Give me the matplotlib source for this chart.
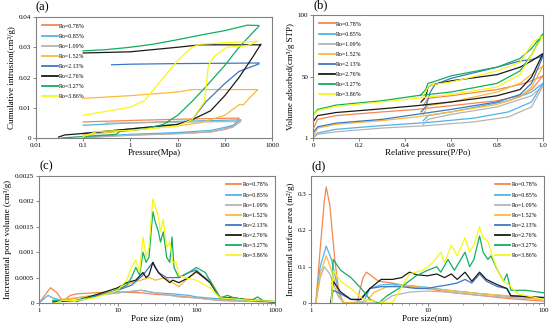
import numpy as np
import matplotlib
matplotlib.use("Agg")
import matplotlib.pyplot as plt

plt.rcParams['font.family'] = ['Liberation Serif', 'DejaVu Serif']

labels = ["Ro=0.78%", "Ro=0.85%", "Ro=1.09%", "Ro=1.52%",
          "Ro=2.13%", "Ro=2.76%", "Ro=3.27%", "Ro=3.86%"]
colors = ["#f4864f", "#4fb3ea", "#b4b4b4", "#fbba3a",
          "#3a78c6", "#1a1a1a", "#13ad62", "#f7f71a"]

# (a) mercury intrusion: intrusion branch then extrusion branch (pressure MPa, cm3/g)
a_x = [
    [0.1, 1, 10, 50, 100, 150, 200, 200, 10, 1, 0.1],
    [0.1, 1, 10, 50, 100, 150, 220, 220, 10, 1, 0.1],
    [0.15, 1, 10, 50, 100, 150, 220, 220, 10, 1, 0.3],
    [0.1, 1, 10, 30, 100, 200, 250, 300, 500, 500, 100, 20, 10, 1, 0.1],
    [0.1, 1, 10, 20, 40, 100, 200, 530, 530, 100, 10, 1, 0.4],
    [0.03, 0.04, 0.1, 1, 10, 20, 50, 100, 200, 400, 580, 580, 100, 30, 10, 1, 0.1],
    [0.035, 0.1, 0.5, 0.6, 2, 5, 10, 20, 40, 100, 200, 530, 530, 300, 100, 30, 10, 3, 1, 0.3, 0.1],
    [0.1, 0.2, 1, 10, 20, 37, 45, 60, 110, 300, 500, 500, 100, 30, 20, 10, 5, 2, 1, 0.1],
]
a_y = [
    [0.0002, 0.001, 0.0015, 0.002, 0.003, 0.004, 0.0065, 0.0066, 0.0062, 0.0058, 0.0053],
    [0.0003, 0.0012, 0.0018, 0.0025, 0.0035, 0.0042, 0.0060, 0.0060, 0.0055, 0.0050, 0.0042],
    [0.0002, 0.0009, 0.0014, 0.002, 0.0028, 0.0036, 0.0055, 0.0055, 0.0052, 0.0050, 0.0049],
    [0.001, 0.0025, 0.004, 0.005, 0.0075, 0.011, 0.011, 0.0125, 0.016, 0.016, 0.016, 0.016, 0.0152, 0.014, 0.0131],
    [0.0015, 0.003, 0.0045, 0.006, 0.012, 0.018, 0.022, 0.0245, 0.0248, 0.0247, 0.0246, 0.0244, 0.0242],
    [0.0003, 0.001, 0.0015, 0.003, 0.0045, 0.006, 0.009, 0.014, 0.020, 0.027, 0.031, 0.0308, 0.0308, 0.0308, 0.0300, 0.0285, 0.0281],
    [0.0, 0.0005, 0.0012, 0.0022, 0.003, 0.0045, 0.0075, 0.012, 0.017, 0.024, 0.030, 0.037, 0.0372, 0.0373, 0.0355, 0.034, 0.0325, 0.031, 0.030, 0.0292, 0.0288],
    [0.0005, 0.0022, 0.0025, 0.004, 0.006, 0.012, 0.024, 0.027, 0.030, 0.0305, 0.032, 0.032, 0.0315, 0.031, 0.030, 0.0256, 0.020, 0.0124, 0.0102, 0.0075],
]

# (b) N2 isotherms: adsorption then desorption (P/Po, cm3/g STP)
b_x = [
    [0, 0.02, 0.1, 0.3, 0.45, 0.6, 0.8, 0.9, 0.95, 1.0, 0.95, 0.9, 0.8, 0.6, 0.5, 0.48],
    [0, 0.02, 0.1, 0.3, 0.5, 0.7, 0.85, 0.95, 1.0, 0.95, 0.85, 0.6, 0.5, 0.48],
    [0, 0.02, 0.1, 0.3, 0.5, 0.7, 0.85, 0.95, 1.0, 0.95, 0.8, 0.6, 0.5, 0.48],
    [0, 0.02, 0.1, 0.3, 0.45, 0.6, 0.8, 0.9, 0.95, 1.0, 0.97, 0.9, 0.8, 0.6, 0.5, 0.48],
    [0, 0.02, 0.1, 0.3, 0.45, 0.6, 0.8, 0.9, 0.95, 1.0, 0.95, 0.9, 0.8, 0.6, 0.53, 0.51, 0.49, 0.47],
    [0, 0.02, 0.1, 0.3, 0.45, 0.6, 0.8, 0.9, 0.95, 1.0, 0.95, 0.9, 0.8, 0.6, 0.52, 0.5, 0.49, 0.47],
    [0, 0.02, 0.1, 0.3, 0.45, 0.6, 0.8, 0.9, 0.95, 1.0, 0.95, 0.9, 0.8, 0.6, 0.52, 0.5, 0.49, 0.47],
    [0, 0.02, 0.1, 0.3, 0.45, 0.6, 0.8, 0.9, 0.95, 0.99, 1.0, 0.96, 0.9, 0.8, 0.6, 0.52, 0.5, 0.49, 0.47],
]
b_y = [
    [8, 16, 19, 22, 24, 27, 31, 35, 40, 51, 47, 44, 40, 35, 33, 27],
    [1, 5, 8, 11, 13.5, 17, 22, 30, 45, 38, 31, 22, 19, 15],
    [1, 4, 6, 9, 11, 14, 18, 26, 43, 35, 26, 20, 16, 12],
    [2, 9, 12, 15, 18, 22, 28, 34, 42, 59, 55, 45, 38, 30, 27, 20],
    [5, 10, 13, 16, 20, 24, 30, 36, 45, 67, 64, 63, 58, 49, 44, 38, 26, 22],
    [14, 19, 21.5, 24.5, 27, 30, 35, 40, 50, 69, 63, 58, 52, 47, 44, 42, 34, 30],
    [19, 24, 27.5, 31, 35, 38, 45, 55, 68, 85, 73, 65, 58, 51, 46, 45, 40, 36],
    [19, 23, 26.5, 30, 33, 36, 42, 52, 68, 80, 83, 79, 62, 55, 46, 44, 42, 38, 34],
]

# (c) incremental pore volume vs pore size (nm, cm3/g)
c_x = [
    [1, 1.4, 1.7, 2, 2.5, 3, 5, 10, 20, 30, 50, 100, 200, 1000],
    [1, 1.3, 1.5, 2, 3, 5, 10, 20, 30, 50, 80, 100, 200, 1000],
    [1.5, 3, 10, 20, 30, 60, 100, 200, 1000],
    [1.5, 3, 5, 10, 15, 20, 25, 30, 40, 50, 60, 80, 100, 150, 200, 300, 1000],
    [3, 10, 15, 21, 28, 33, 42, 60, 80, 100, 150, 200, 1000],
    [1.5, 3, 5, 8, 10, 13, 17, 21, 23, 25, 28, 30, 33, 38, 42, 46, 50, 60, 80, 100, 150, 200, 300, 500, 1000],
    [1.5, 3, 8, 13, 15, 17, 19, 21, 23, 25, 28, 30, 33, 35, 38, 42, 46, 49, 52, 60, 80, 100, 130, 200, 250, 300, 500, 600, 700, 1000],
    [1.6, 2, 3, 5, 8, 10, 13, 15, 17, 19, 21, 23, 25, 28, 30, 33, 35, 38, 42, 46, 50, 55, 60, 70, 100, 150, 200, 300, 500, 1000],
]
c_y = [
    [0, 0.0003, 0.0002, 0.00003, 0.00015, 0.00018, 0.0002, 0.00022, 0.0002, 0.00017, 0.00015, 0.0001, 0.00005, 0.00002],
    [0, 0.00015, 0.0001, 0.00005, 0.0001, 0.00015, 0.0002, 0.00025, 0.0002, 0.00018, 0.00015, 0.00012, 0.00008, 0.00003],
    [0.00005, 0.0001, 0.0002, 0.00025, 0.0002, 0.00012, 0.0001, 0.00005, 0.00002],
    [0.00005, 0.0001, 0.00015, 0.00025, 0.0004, 0.00045, 0.0005, 0.00045, 0.0005, 0.0004, 0.00032, 0.0005, 0.0006, 0.00045, 0.00012, 0.0001, 0.00003],
    [0.00003, 0.00025, 0.00035, 0.00055, 0.0008, 0.0006, 0.0005, 0.0005, 0.0006, 0.00065, 0.0004, 0.0001, 0.00002],
    [0.00002, 0.00005, 0.00015, 0.00025, 0.0003, 0.0004, 0.00045, 0.0006, 0.0005, 0.00055, 0.0008, 0.0007, 0.0006, 0.0005, 0.00045, 0.0004, 0.00045, 0.0004, 0.0005, 0.00062, 0.0004, 0.0001, 0.0001, 0.00005, 0.00002],
    [0.00005, 0.00005, 0.0002, 0.00035, 0.0005, 0.0007, 0.00055, 0.001, 0.0008, 0.0009, 0.0018, 0.0016, 0.0014, 0.0012, 0.0014, 0.0009, 0.0008, 0.0013, 0.0007, 0.0005, 0.0006, 0.0007, 0.0006, 0.0001, 0.00015, 0.0001, 0.00005, 0.00012, 0.00005, 0.00002],
    [0, 0.00005, 0.00005, 0.0001, 0.0002, 0.00025, 0.00045, 0.0007, 0.00085, 0.0006, 0.0013, 0.0009, 0.0011, 0.00205, 0.0019, 0.0017, 0.0014, 0.00165, 0.0011, 0.0012, 0.0008, 0.0008, 0.00055, 0.0005, 0.00045, 0.0003, 0.0001, 0.00008, 0.00005, 0.00003],
]

# (d) incremental surface area vs pore size (nm, m2/g)
d_x = [
    [1.1, 1.2, 1.3, 1.35, 1.45, 1.6, 1.75, 1.9, 2.5, 2.6, 2.8, 3, 3.3, 3.8, 5, 7, 10, 15, 30, 50, 100],
    [1.1, 1.2, 1.35, 1.5, 1.7, 1.9, 2.8, 3.2, 4, 5, 7, 10, 15, 30, 100],
    [1.1, 1.2, 1.3, 1.45, 1.7, 1.9, 4, 5, 7, 10, 15, 30, 100],
    [1.1, 1.2, 1.35, 1.5, 1.7, 1.9, 3, 3.5, 4.5, 6, 8, 10, 15, 30, 50, 100],
    [1.48, 1.55, 1.8, 2.2, 2.6, 3.2, 4, 6, 8, 10, 12, 15, 18, 21, 24, 28, 32, 40, 48, 52, 100],
    [1.48, 1.55, 1.8, 2.2, 2.7, 3.2, 4, 5, 6, 7, 8, 10, 12, 14, 16, 18, 21, 24, 28, 32, 40, 48, 52, 100],
    [1.5, 1.55, 1.8, 2.2, 2.7, 3.2, 3.8, 4.5, 6, 8, 10, 12, 13, 15, 17, 21, 23, 25, 28, 30, 33, 35, 40, 45, 48, 52, 70, 100],
    [1.5, 1.55, 1.8, 2.2, 2.8, 4.5, 5, 6, 7, 9, 10, 11, 13, 14, 16, 18, 21, 23, 25, 28, 30, 33, 36, 40, 45, 50, 60, 100],
]
d_y = [
    [0, 0.15, 0.28, 0.32, 0.27, 0.12, 0.02, 0, 0, 0.03, 0.07, 0.085, 0.075, 0.06, 0.055, 0.045, 0.04, 0.03, 0.02, 0.012, 0.005],
    [0, 0.1, 0.157, 0.12, 0.04, 0, 0, 0.04, 0.05, 0.052, 0.048, 0.043, 0.035, 0.025, 0.01],
    [0, 0.07, 0.1, 0.08, 0.02, 0, 0, 0.02, 0.03, 0.033, 0.03, 0.02, 0.01],
    [0, 0.08, 0.13, 0.09, 0.03, 0, 0.005, 0.03, 0.045, 0.05, 0.045, 0.04, 0.035, 0.025, 0.02, 0.01],
    [0, 0.035, 0.025, 0.01, 0.008, 0.04, 0.045, 0.045, 0.04, 0.04, 0.045, 0.05, 0.055, 0.065, 0.055, 0.08, 0.06, 0.045, 0.04, 0.02, 0.015],
    [0, 0.06, 0.03, 0.01, 0.01, 0.04, 0.065, 0.065, 0.07, 0.085, 0.078, 0.075, 0.08, 0.07, 0.08, 0.065, 0.085, 0.06, 0.085, 0.065, 0.05, 0.04, 0.02, 0.015],
    [0, 0.12, 0.09, 0.07, 0.04, 0.01, 0, 0.02, 0.045, 0.075, 0.09, 0.1, 0.085, 0.12, 0.09, 0.14, 0.1, 0.12, 0.185, 0.14, 0.12, 0.13, 0.09, 0.06, 0.08, 0.035, 0.035, 0.028],
    [0, 0.09, 0.06, 0.04, 0.01, 0, 0, 0.045, 0.08, 0.09, 0.1, 0.11, 0.14, 0.11, 0.16, 0.13, 0.18, 0.14, 0.16, 0.21, 0.18, 0.17, 0.13, 0.09, 0.06, 0.05, 0.025, 0.01],
]

W, H = 550, 324
fig = plt.figure(figsize=(5.5, 3.24), dpi=100)


def make_ax(l, r, t, b):
    return fig.add_axes([l / W, 1 - b / H, (r - l) / W, (b - t) / H])


ax_a = make_ax(36, 272, 17, 138)
ax_b = make_ax(313, 543, 15, 138)
ax_c = make_ax(39, 275, 176, 303)
ax_d = make_ax(311, 544, 176, 303)

for ax in (ax_a, ax_b, ax_c, ax_d):
    for s in ax.spines.values():
        s.set_color("#808080")
        s.set_linewidth(0.8)
    ax.tick_params(labelsize=5, length=2, width=0.5, pad=1.5, color="#555555")
    ax.tick_params(which="minor", length=1.2, width=0.4, color="#555555")

lw = 0.9
for i in range(8):
    ax_a.plot(a_x[i], a_y[i], color=colors[i], lw=lw, label=labels[i])
    ax_b.plot(b_x[i], b_y[i], color=colors[i], lw=lw, label=labels[i])
    ax_c.plot(c_x[i], c_y[i], color=colors[i], lw=lw, label=labels[i])
    ax_d.plot(d_x[i], d_y[i], color=colors[i], lw=lw, label=labels[i])

# (a)
ax_a.set_xscale("log")
ax_a.set_xlim(0.01, 1000)
ax_a.set_ylim(0, 0.04)
ax_a.set_xticks([0.01, 0.1, 1, 10, 100, 1000], ["0.01", "0.1", "1", "10", "100", "1000"])
ax_a.xaxis.set_minor_locator(plt.NullLocator())
ax_a.set_yticks([0, 0.01, 0.02, 0.03, 0.04], ["0", "0.01", "0.02", "0.03", "0.04"])
ax_a.set_xlabel("Pressure(Mpa)", fontsize=6.5, labelpad=1)
ax_a.set_ylabel("Cumulative intrusion(cm³/g)", fontsize=6.5, labelpad=2)

# (b)
ax_b.set_xlim(0, 1)
ax_b.set_ylim(1, 100)
ax_b.set_xticks([0, 0.2, 0.4, 0.6, 0.8, 1.0], ["0", "0.2", "0.4", "0.6", "0.8", "1.0"])
ax_b.set_yticks([1, 50, 100], ["1", "50", "100"])
ax_b.set_xlabel("Relative pressure(P/Po)", fontsize=6.5, labelpad=1)
ax_b.set_ylabel("Volume adsorbed(cm³/g STP)", fontsize=6.5, labelpad=2)

# (c)
ax_c.set_xscale("log")
ax_c.set_xlim(1, 1000)
ax_c.set_ylim(0, 0.0025)
ax_c.set_xticks([1, 10, 100, 1000], ["1", "10", "100", "1000"])
ax_c.set_yticks([0, 0.0005, 0.001, 0.0015, 0.002, 0.0025],
                ["0", "0.0005", "0.001", "0.0015", "0.002", "0.0025"])
ax_c.set_xlabel("Pore size (nm)", fontsize=6.5, labelpad=1)
ax_c.set_ylabel("Incremental pore volume (cm³/g)", fontsize=6.5, labelpad=2)

# (d)
ax_d.set_xscale("log")
ax_d.set_xlim(1, 100)
ax_d.set_ylim(0, 0.35)
ax_d.set_xticks([1, 10, 100], ["1", "10", "100"])
ax_d.set_yticks([0, 0.1, 0.2, 0.3], ["0", "0.1", "0.2", "0.3"])
ax_d.set_xlabel("Pore size(nm)", fontsize=6.5, labelpad=1)
ax_d.set_ylabel("Incremental surface area (m²/g)", fontsize=6.5, labelpad=2)

leg_kw = dict(fontsize=4.2, frameon=False, handlelength=2.6, handletextpad=0.3,
              labelspacing=0.85, borderaxespad=0.7)
for ax, loc in ((ax_a, "upper left"), (ax_b, "upper left"),
                (ax_c, "upper right"), (ax_d, "upper right")):
    leg = ax.legend(loc=loc, **leg_kw)
    for h in leg.get_lines():
        h.set_linewidth(1.3)

for ax, t in ((ax_a, "(a)"), (ax_b, "(b)"), (ax_c, "(c)"), (ax_d, "(d)")):
    ax.text(0.0, 1.03, t, transform=ax.transAxes, fontsize=9, ha="left", va="bottom")

fig.savefig("out.png", dpi=100)
